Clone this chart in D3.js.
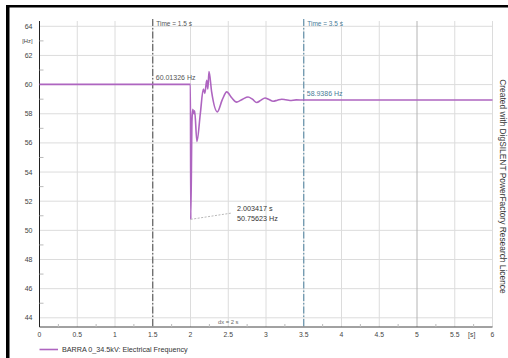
<!DOCTYPE html>
<html>
<head>
<meta charset="utf-8">
<script src="https://cdn.jsdelivr.net/npm/d3@7"></script>
<style>
	body { margin: 0; background: #fff; }
	svg { display: block; font-family: "Liberation Sans", Arial, sans-serif; }
</style>
</head>
<body>
<script>

// frequency trace
var timeS   = [0, 1.999, 2.0034, 2.02, 2.03, 2.045, 2.055, 2.085, 2.13, 2.17, 2.19, 2.215, 2.23, 2.245, 2.28, 2.355, 2.42, 2.48, 2.545, 2.612, 2.69, 2.762, 2.82, 2.877, 2.93, 2.987, 3.04, 3.093, 3.15, 3.208, 3.26, 3.318, 3.4, 3.5, 6];
var freqHz  = [60.013, 60.013, 50.756, 57.6, 58.3, 58.0, 58.2, 56.1, 58.0, 59.7, 59.4, 60.3, 59.7, 60.9, 59.5, 58.13, 58.95, 59.5, 59.1, 58.8, 59.0, 59.15, 59.0, 58.77, 58.92, 59.08, 58.98, 58.86, 58.93, 59.0, 58.96, 58.91, 58.95, 58.94, 58.94];

var xTicks = [0, 0.5, 1, 1.5, 2, 2.5, 3, 3.5, 4, 4.5, 5, 5.5, 6];
var xMinor = [0.25, 0.75, 1.25, 1.75, 2.25, 2.75, 3.25, 3.75, 4.25, 4.75, 5.25, 5.75];
var yTicks = [44, 46, 48, 50, 52, 54, 56, 58, 60, 62, 64];
var yMinor = [45, 47, 49, 51, 53, 55, 57, 59, 61, 63];

// cursors and labels
var cursorTimes  = [1.5, 3.5];
var cursorLabels = ["Time = 1.5 s", "Time = 3.5 s"];
var valueLabels  = ["60.01326 Hz", "58.9386 Hz"];
var valueAt      = [60.013, 58.94];
var minTime = 2.0034, minFreq = 50.756;
var minLabels = ["2.003417 s", "50.75623 Hz"];

var W = 508, H = 358;
var traceColor = "#ae65c0";

var svg = d3.select("body").append("svg")
	.attr("width", W)
	.attr("height", H);

// frame of the screenshot (thick black left and top)
svg.append("rect").attr("x", 6).attr("y", 5).attr("width", 3.5).attr("height", H).attr("fill", "#000");
svg.append("rect").attr("x", 6).attr("y", 5).attr("width", W).attr("height", 2.5).attr("fill", "#000");

var xScale = d3.scaleLinear().domain([0, 6]).range([39.5, 492.5]);
var yScale = d3.scaleLinear().domain([44, 64]).range([317.8, 26.3]);
var yBottom = 327, yTop = 21;

// grid
svg.append("g").selectAll("line")
	.data(yTicks)
	.enter().append("line")
	.attr("x1", xScale(0)).attr("x2", xScale(6))
	.attr("y1", function(d) { return yScale(d); })
	.attr("y2", function(d) { return yScale(d); })
	.attr("stroke", "#dcdcdc").attr("stroke-width", 1);

svg.append("g").selectAll("line")
	.data(xTicks.slice(1))
	.enter().append("line")
	.attr("x1", function(d) { return xScale(d); })
	.attr("x2", function(d) { return xScale(d); })
	.attr("y1", yTop).attr("y2", yBottom)
	.attr("stroke", function(d) { return d == 5 ? "#b4b4b4" : "#dcdcdc"; })
	.attr("stroke-width", 1);

// axes lines
svg.append("line").attr("x1", xScale(0)).attr("x2", xScale(0)).attr("y1", yTop).attr("y2", yBottom)
	.attr("stroke", "#222").attr("stroke-width", 1);
svg.append("line").attr("x1", xScale(0)).attr("x2", xScale(6)).attr("y1", yBottom).attr("y2", yBottom)
	.attr("stroke", "#444").attr("stroke-width", 1);

// minor ticks
svg.append("g").selectAll("line")
	.data(yMinor)
	.enter().append("line")
	.attr("x1", xScale(0)).attr("x2", xScale(0) + 4)
	.attr("y1", function(d) { return yScale(d); })
	.attr("y2", function(d) { return yScale(d); })
	.attr("stroke", "#bbb");

svg.append("g").selectAll("line")
	.data(xMinor)
	.enter().append("line")
	.attr("x1", function(d) { return xScale(d); })
	.attr("x2", function(d) { return xScale(d); })
	.attr("y1", yBottom).attr("y2", yBottom - 3)
	.attr("stroke", "#bbb");

// tick labels
svg.append("g").selectAll("text")
	.data(yTicks)
	.enter().append("text")
	.attr("x", 32.5)
	.attr("y", function(d) { return yScale(d); })
	.attr("dy", "0.35em")
	.attr("text-anchor", "end")
	.attr("font-size", 7)
	.attr("fill", "#444")
	.text(function(d) { return d; });

svg.append("text").attr("x", 32.5).attr("y", yScale(63)).attr("dy", "0.35em")
	.attr("text-anchor", "end").attr("font-size", 5.8).attr("fill", "#444").text("[Hz]");

svg.append("g").selectAll("text")
	.data(xTicks)
	.enter().append("text")
	.attr("x", function(d) { return xScale(d); })
	.attr("y", 337)
	.attr("text-anchor", "middle")
	.attr("font-size", 6.8)
	.attr("fill", "#444")
	.text(function(d) { return d; });

svg.append("text").attr("x", 471.7).attr("y", 337).attr("text-anchor", "middle")
	.attr("font-size", 6.8).attr("fill", "#444").text("[s]");

// cursors
var cursorColors = ["#555555", "#5a8aa6"];
var cursorText = ["#555555", "#4a7c98"];

cursorTimes.forEach(function(t, i) {
	svg.append("line")
		.attr("x1", xScale(t)).attr("x2", xScale(t))
		.attr("y1", 19).attr("y2", yBottom)
		.attr("stroke", cursorColors[i])
		.attr("stroke-width", 1.1)
		.attr("stroke-dasharray", "7,2,1.5,2");
	svg.append("text")
		.attr("x", xScale(t) + 3.5).attr("y", 23.5).attr("dy", "0.35em")
		.attr("font-size", 6.5).attr("fill", cursorText[i])
		.text(cursorLabels[i]);
	svg.append("text")
		.attr("x", xScale(t) + 3).attr("y", yScale(valueAt[i]) - 4.5)
		.attr("font-size", 7).attr("fill", cursorText[i])
		.text(valueLabels[i]);
});

svg.append("text").attr("x", xScale(2.5)).attr("y", yBottom - 3.5)
	.attr("text-anchor", "middle").attr("font-size", 5.8).attr("fill", "#666").text("dx = 2 s");

// frequency trace
var points = timeS.map(function(t, i) { return [t, freqHz[i]]; });
var line = d3.line()
	.x(function(d) { return xScale(d[0]); })
	.y(function(d) { return yScale(d[1]); })
	.curve(d3.curveMonotoneX);

svg.append("path")
	.datum(points)
	.attr("d", line)
	.attr("fill", "none")
	.attr("stroke", traceColor)
	.attr("stroke-width", 1.6);

// minimum annotation
svg.append("line")
	.attr("x1", xScale(minTime)).attr("y1", yScale(minFreq))
	.attr("x2", 232).attr("y2", 213)
	.attr("stroke", "#999").attr("stroke-width", 0.7).attr("stroke-dasharray", "2,1.5");

svg.append("g").selectAll("text")
	.data(minLabels)
	.enter().append("text")
	.attr("x", 237)
	.attr("y", function(d, i) { return 208.3 + i * 10; })
	.attr("dy", "0.35em")
	.attr("font-size", 7.2)
	.attr("fill", "#333")
	.text(function(d) { return d; });

// legend
svg.append("line").attr("x1", 39.5).attr("x2", 58).attr("y1", 349.5).attr("y2", 349.5)
	.attr("stroke", traceColor).attr("stroke-width", 1.6);
svg.append("text").attr("x", 62).attr("y", 349.5).attr("dy", "0.35em")
	.attr("font-size", 7.2).attr("fill", "#333")
	.text("BARRA 0_34.5kV: Electrical Frequency");

// side text
svg.append("text")
	.attr("transform", "translate(500," + 186.5 + ") rotate(90)")
	.attr("text-anchor", "middle")
	.attr("font-size", 8.4)
	.attr("fill", "#333")
	.text("Created with DigSILENT PowerFactory Research Licence");

</script>
</body>
</html>
